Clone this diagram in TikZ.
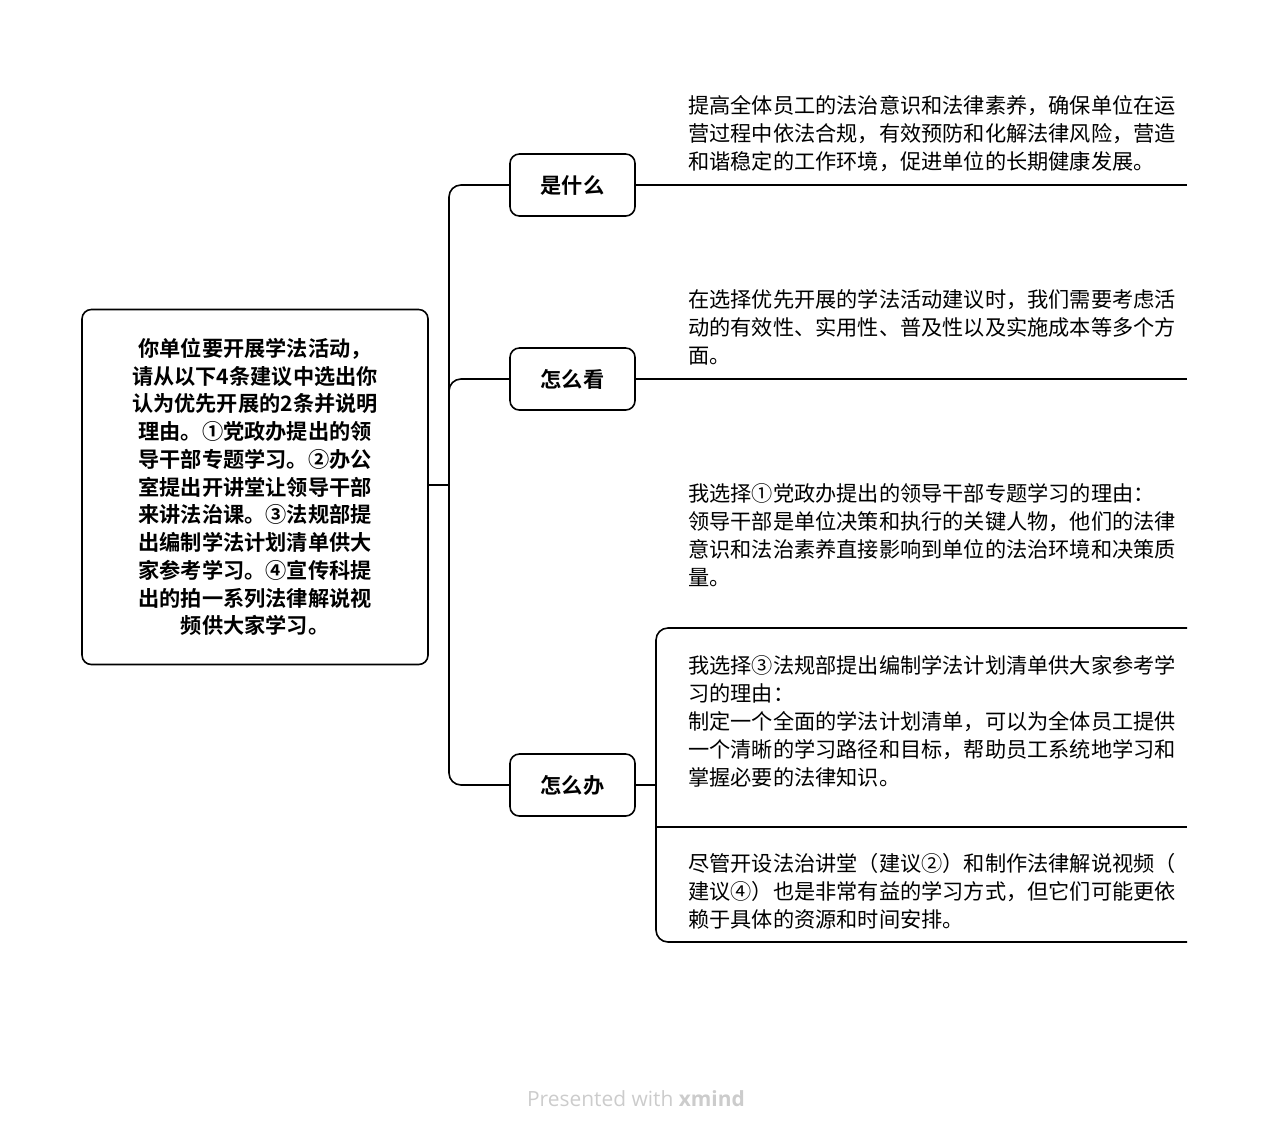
\documentclass[tikz,border=0pt]{standalone}
\usepackage{fontspec}
\setmainfont{Noto Sans CJK SC}[BoldFont={Noto Sans CJK SC Bold}]
\newfontfamily\creditfont{Open Sans}
\usepackage{tikz}
\usetikzlibrary{positioning}

\begin{document}
\begin{tikzpicture}[
        x=0.75pt, y=-0.75pt,
        every node/.style={inner sep=0pt},
        root/.style={
            draw,
            line width=1.2pt,
            rounded corners=7pt,
            minimum width=259.5pt,
            minimum height=266.25pt,
            align=center,
            font=\bfseries\fontsize{15.9}{20.8}\selectfont
        },
        topic/.style={
            draw,
            line width=1.2pt,
            rounded corners=7pt,
            minimum width=93.75pt,
            minimum height=46.5pt,
            font=\bfseries\fontsize{15.9}{20}\selectfont
        },
        leaf/.style={anchor=north west, align=left, font=\fontsize{15.9}{21}\selectfont},
        link/.style={line width=1.2pt, rounded corners=9pt}
    ]
        \useasboundingbox (0,0) rectangle (1269,1139);

        \node[root] (root) at (255,487) {你单位要开展学法活动，\\请从以下4条建议中选出你\\认为优先开展的2条并说明\\理由。①党政办提出的领\\导干部专题学习。②办公\\室提出开讲堂让领导干部\\来讲法治课。③法规部提\\出编制学法计划清单供大\\家参考学习。④宣传科提\\出的拍一系列法律解说视\\频供大家学习。};

        \node[topic] (what) at (572.5,185) {是什么};
        \node[topic] (how) at (572.5,379) {怎么看};
        \node[topic] (todo) at (572.5,785) {怎么办};

        % trunk
        \coordinate (fork) at (449,485);
        \draw[link] (root.east |- fork) -- (fork);
        \draw[link] (what.west) -| (fork) |- (todo.west);
        \draw[link] (fork) |- (how.west);

        % leaves of 是什么 / 怎么看
        \coordinate (line1) at (1187,185);
        \coordinate (line2) at (1187,379);
        \node[leaf] (why1) at (688,95.5) {提高全体员工的法治意识和法律素养，确保单位在运\\营过程中依法合规，有效预防和化解法律风险，营造\\和谐稳定的工作环境，促进单位的长期健康发展。};
        \node[leaf] (why2) at (688,289.5) {在选择优先开展的学法活动建议时，我们需要考虑活\\动的有效性、实用性、普及性以及实施成本等多个方\\面。};
        \draw[link] (what.east) -- (line1);
        \draw[link] (how.east) -- (line2);

        % leaves of 怎么办
        \coordinate (join) at (656,785);
        \coordinate (a3) at (656,628);
        \coordinate (b3) at (1187,628);
        \coordinate (a4) at (656,827);
        \coordinate (b4) at (1187,827);
        \coordinate (a5) at (656,942);
        \coordinate (b5) at (1187,942);
        \node[leaf] (pick1) at (688,483.5) {我选择①党政办提出的领导干部专题学习的理由：\\领导干部是单位决策和执行的关键人物，他们的法律\\意识和法治素养直接影响到单位的法治环境和决策质\\量。};
        \node[leaf] (pick3) at (688,655.5) {我选择③法规部提出编制学法计划清单供大家参考学\\习的理由：\\制定一个全面的学法计划清单，可以为全体员工提供\\一个清晰的学习路径和目标，帮助员工系统地学习和\\掌握必要的法律知识。};
        \node[leaf] (other) at (688,853.5) {尽管开设法治讲堂（建议②）和制作法律解说视频（\\建议④）也是非常有益的学习方式，但它们可能更依\\赖于具体的资源和时间安排。};
        \draw[link] (todo.east) -- (join);
        \draw[link] (b3) -- (a3) -- (a5) -- (b5);
        \draw[link] (a4) -- (b4);

        \node[font=\creditfont\fontsize{15.7}{18}\selectfont, text=black!20] (credit) at (636,1099) {Presented with \textbf{xmind}};
    \end{tikzpicture}
\end{document}
